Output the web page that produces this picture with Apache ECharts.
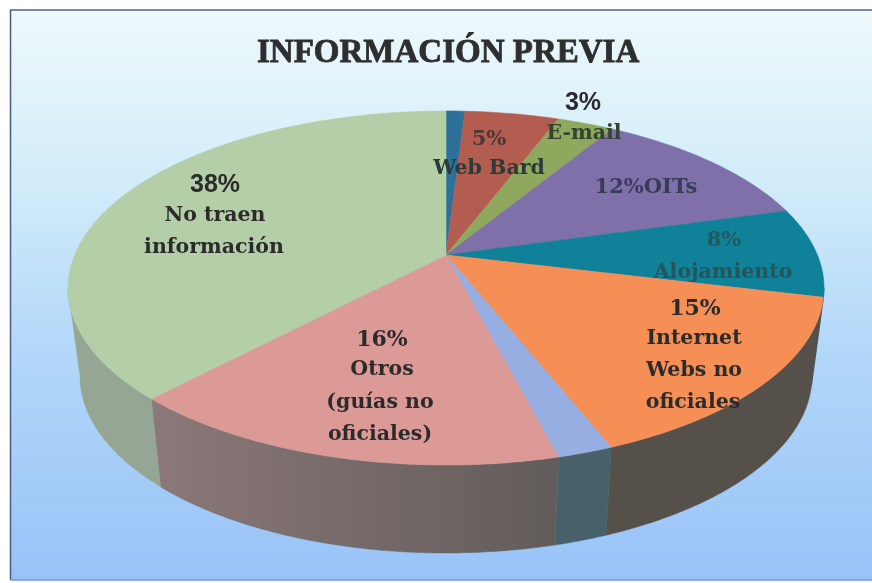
<!DOCTYPE html>
<html><head><meta charset="utf-8">
<style>html,body{margin:0;padding:0;background:#fff}#c{width:872px;height:583px}</style>
<script src="https://cdn.jsdelivr.net/npm/echarts@6/dist/echarts.min.js"></script>
</head><body><div id="c"></div>
<script>
const titleText = 'INFORMACIÓN PREVIA';
const categories = ['Sin rótulo', 'Web Bard', 'E-mail', 'OITs', 'Alojamiento', 'Internet Webs no oficiales', 'Sin rótulo 2', 'Otros (guías no oficiales)', 'No traen información'];
const values = [1, 5, 3, 12, 8, 15, 2, 16, 38];
const topColors = ['#2b7199', '#b35c50', '#8fa85e', '#7f70a9', '#0f8299', '#f58f55', '#96aee2', '#dc9a97', '#b4cfa8'];
const wallColors = ['#1c4a64', '#74403a', '#5e6e40', '#54497a', '#0a5563', '#56504a', '#47606a', '#6f6464', '#95a695'];

// label layout (separate from data): text lines centred at pixel spots
const labelItems = [
  {t: '5%', x: 489, y: 140, c: '#4a3836', s: 21},
  {t: 'Web Bard', x: 489, y: 169, c: '#2b3b3a', s: 20.5},
  {t: '3%', x: 583, y: 103, c: '#2a2c30', s: 25, sans: true},
  {t: 'E-mail', x: 584, y: 134, c: '#34452f', s: 20.5},
  {t: '12%OITs', x: 646, y: 188, c: '#383c58', s: 21},
  {t: '8%', x: 724, y: 241, c: '#22595f', s: 21},
  {t: 'Alojamiento', x: 723, y: 273, c: '#25545a', s: 20.5},
  {t: '15%', x: 695, y: 309, c: '#2c2b2b', s: 22},
  {t: 'Internet', x: 694, y: 339, c: '#2c2b2b', s: 20.5},
  {t: 'Webs no', x: 694, y: 371, c: '#2c2b2b', s: 20.5},
  {t: 'oficiales', x: 693, y: 403, c: '#2c2b2b', s: 20.5},
  {t: '16%', x: 382, y: 340, c: '#2c2b2b', s: 22},
  {t: 'Otros', x: 382, y: 370, c: '#2c2b2b', s: 20.5},
  {t: '(guías no', x: 380, y: 403, c: '#2c2b2b', s: 20.5},
  {t: 'oficiales)', x: 380, y: 435, c: '#2c2b2b', s: 20.5},
  {t: '38%', x: 215, y: 185, c: '#2c2b2b', s: 25, sans: true},
  {t: 'No traen', x: 215, y: 216, c: '#2c2b2b', s: 20.5},
  {t: 'información', x: 214, y: 248, c: '#2c2b2b', s: 20.5}
];

// projection of the tilted pie
const rimTop = {cx: 446, cy: 288, rx: 378, ry: 177};
const rimBottom = {cx: 446, cy: 376, rx: 366, ry: 177};
const apex = [446, 255];
const warp = 0.205;
const total = values.reduce((a, b) => a + b, 0);
function cumAngle(i) {
  let s = 0;
  for (let k = 0; k < i; k++) s += values[k];
  const th = s / total * 2 * Math.PI;
  return th - warp * Math.sin(th);
}
function rim(r, t) { return [r.cx + r.rx * Math.sin(t), r.cy - r.ry * Math.cos(t)]; }
function arc(r, a, b) {
  const n = Math.max(2, Math.ceil(Math.abs(b - a) / 0.01));
  const pts = [];
  for (let j = 0; j <= n; j++) pts.push(rim(r, a + (b - a) * j / n));
  return pts;
}
const seriesData = values.map((v, i) => ({name: categories[i], value: [v]}));

const chart = echarts.init(document.getElementById('c'), null, {renderer: 'canvas'});
chart.setOption({
  animation: false,
  title: {
    text: titleText, left: 252, top: 32,
    textStyle: {fontFamily: 'Liberation Serif', fontWeight: 'bold', fontSize: 33, color: '#2e2e30',
      textBorderColor: '#2e2e30', textBorderWidth: 0.8}
  },
  graphic: [
    {type: 'rect', z: -10, shape: {x: 11, y: 10, width: 861, height: 570},
     style: {fill: new echarts.graphic.LinearGradient(0, 0, 0, 1, [
       {offset: 0, color: '#eef9fb'}, {offset: 0.3, color: '#d2ecfa'},
       {offset: 0.6, color: '#b2d7f9'}, {offset: 1, color: '#99c3f8'}])}},
    {type: 'line', z: -9, shape: {x1: 10, y1: 10, x2: 872, y2: 10}, style: {stroke: '#4f6080', lineWidth: 1.5}},
    {type: 'line', z: -9, shape: {x1: 10.5, y1: 10, x2: 10.5, y2: 580}, style: {stroke: '#4a5a80', lineWidth: 1.5}},
    {type: 'line', z: -9, shape: {x1: 10, y1: 580, x2: 872, y2: 580}, style: {stroke: '#7098dc', lineWidth: 1.5}}
  ],
  series: [
    {
      type: 'custom', coordinateSystem: 'none', z: 2, silent: true, data: seriesData,
      renderItem(params, api) {
        const i = params.dataIndex;
        const a = Math.max(cumAngle(i), Math.PI / 2);
        const b = Math.min(cumAngle(i + 1), 3 * Math.PI / 2);
        if (b <= a) return null;
        const pts = arc(rimTop, a, b).concat(arc(rimBottom, b, a));
        let fill = wallColors[i];
        if (i === 7) fill = new echarts.graphic.LinearGradient(0, 0, 1, 0, [{offset: 0, color: '#8c7878'}, {offset: 1, color: '#615c5b'}]);
        return {type: 'polygon', shape: {points: pts}, style: {fill: fill, stroke: wallColors[i], lineWidth: 0.5}};
      }
    },
    {
      type: 'custom', coordinateSystem: 'none', z: 3, silent: true, data: seriesData,
      renderItem(params, api) {
        const i = params.dataIndex;
        const pts = [apex].concat(arc(rimTop, cumAngle(i), cumAngle(i + 1)));
        return {type: 'polygon', shape: {points: pts}, style: {fill: topColors[i], stroke: topColors[i], lineWidth: 0.6}};
      }
    },
    {
      type: 'custom', coordinateSystem: 'none', z: 4, silent: true, data: labelItems.map(d => d.t),
      renderItem(params) {
        const d = labelItems[params.dataIndex];
        return {type: 'text', style: {
          x: d.x, y: d.y, text: d.t, fill: d.c, align: 'center', verticalAlign: 'middle',
          font: 'bold ' + d.s + 'px ' + (d.sans ? '"Liberation Sans"' : '"DejaVu Serif"')
        }};
      }
    }
  ]
});
</script></body></html>
